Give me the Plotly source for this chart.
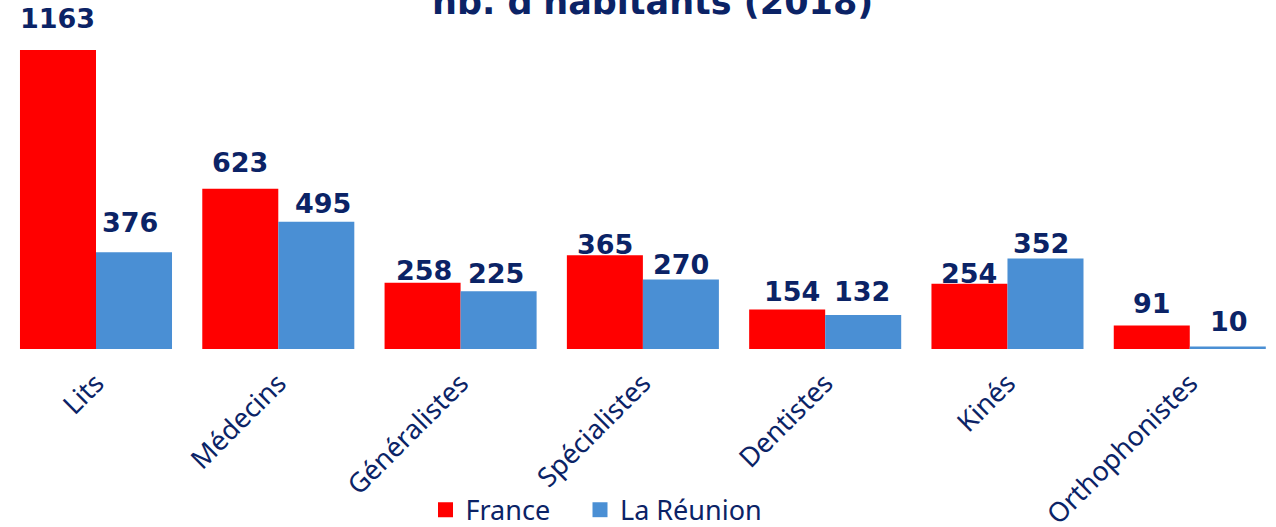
import plotly.graph_objects as go

categories = ["Lits", "Médecins", "Généralistes", "Spécialistes", "Dentistes", "Kinés", "Orthophonistes"]
france = [1163, 623, 258, 365, 154, 254, 91]
reunion = [376, 495, 225, 270, 132, 352, 10]
series_names = ["France", "La Réunion"]
title_text = "nb. d'habitants (2018)"

# hand-placed label nudges (pixels) as in the original slide
label_dx_france = [0, 0, 1, 0, 5, 0, 0]
label_dy_france = [14, 9, -5, -7, 0, -7, 5]
label_dx_reunion = [-4, 7, -3, 0, -1, -4, 1]
label_dy_reunion = [12, 1, 0, -2, 6, -3, 7]

NAVY = "#0B2366"
RED = "#FF0000"
BLUE = "#4A8FD4"

idx = list(range(len(categories)))
bar_w = 0.417

fig = go.Figure()
fig.add_trace(go.Bar(x=idx, y=france, name=series_names[0], marker=dict(color=RED, line=dict(width=0)),
                     width=bar_w, offset=-bar_w, showlegend=False))
fig.add_trace(go.Bar(x=idx, y=reunion, name=series_names[1], marker=dict(color=BLUE, line=dict(width=0)),
                     width=bar_w, offset=0, showlegend=False))
# legend entries (square swatches like the reference)
fig.add_trace(go.Scatter(x=[None], y=[None], mode="markers", name=series_names[0],
                         marker=dict(symbol="square", size=15, color=RED), legend="legend"))
fig.add_trace(go.Scatter(x=[None], y=[None], mode="markers", name=series_names[1],
                         marker=dict(symbol="square", size=15, color=BLUE), legend="legend2"))

annotations = []
for i in idx:
    for xv, yv, dx, dy in ((i - bar_w / 2, france[i], label_dx_france[i], label_dy_france[i]),
                           (i + bar_w / 2, reunion[i], label_dx_reunion[i], label_dy_reunion[i])):
        annotations.append(dict(x=xv, y=yv, xref="x", yref="y", text=str(yv), showarrow=False,
                                yanchor="bottom", xshift=dx, yshift=dy,
                                font=dict(family="DejaVu Sans", size=27, color=NAVY, weight="bold")))
annotations.append(dict(x=0.511, y=1.0, xref="paper", yref="paper", text="<b>" + title_text + "</b>",
                        showarrow=False, yanchor="bottom", yshift=-24,
                        font=dict(family="DejaVu Sans", size=35, color=NAVY)))

legend_common = dict(orientation="h", xref="container", yref="container", y=0.032,
                     xanchor="left", yanchor="middle",
                     font=dict(family="Noto Sans", size=27, color=NAVY),
                     itemwidth=30, bgcolor="rgba(0,0,0,0)")

fig.update_layout(
    template="none",
    width=1276, height=527,
    margin=dict(l=0, r=0, t=0, b=178, autoexpand=False),
    plot_bgcolor="white", paper_bgcolor="white",
    barmode="group",
    showlegend=True,
    legend=dict(x=425.5 / 1276, **legend_common),
    legend2=dict(x=580 / 1276, **legend_common),
    annotations=annotations,
    xaxis=dict(range=[-0.5266, 6.473], tickmode="array", tickvals=idx, ticktext=categories,
               tickangle=-45, showgrid=False, zeroline=False, showline=False, ticks="",
               automargin=False, ticklabelstandoff=12,
               tickfont=dict(family="Noto Sans", size=27, color=NAVY)),
    yaxis=dict(range=[0, 1357], visible=False, showgrid=False, zeroline=False, automargin=False),
)

fig.write_html("out.html")
